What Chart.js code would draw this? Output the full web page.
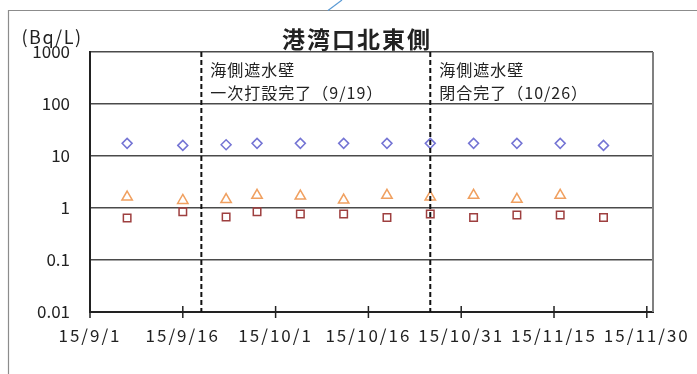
<!DOCTYPE html>
<html>
<head>
<meta charset="utf-8">
<script src="https://cdn.jsdelivr.net/npm/chart.js@4/dist/chart.umd.min.js"></script>
<style>
  html, body { margin: 0; padding: 0; background: #fff; }
  #wrap { width: 697px; height: 374px; position: relative; }
</style>
</head>
<body>
<div id="wrap"><canvas id="c" width="697" height="374"></canvas></div>
<script>
// Sampling dates and measured concentrations (Bq/L)
const sampleDates = ['2015-09-07', '2015-09-16', '2015-09-23', '2015-09-28', '2015-10-05', '2015-10-12',
                     '2015-10-19', '2015-10-26', '2015-11-02', '2015-11-09', '2015-11-16', '2015-11-23'];
const cs134     = [0.64, 0.85, 0.67, 0.85, 0.77, 0.77, 0.66, 0.77, 0.66, 0.73, 0.73, 0.66];
const cs137     = [1.62, 1.40, 1.45, 1.75, 1.70, 1.42, 1.75, 1.62, 1.75, 1.47, 1.75, null];
const grossBeta = [17.5, 16.0, 16.5, 17.5, 17.5, 17.5, 17.5, 17.5, 17.5, 17.5, 17.5, 16.0];

// Axis ticks
const xTickLabels = ['15/9/1', '15/9/16', '15/10/1', '15/10/16', '15/10/31', '15/11/15', '15/11/30'];
const xEndDate = '2015-12-01';
const yTickValues = [0.01, 0.1, 1, 10, 100, 1000];
const yTickLabels = ['0.01', '0.1', '1', '10', '100', '1000'];

// Construction milestones marked with dashed lines
const eventDates = ['2015-09-19', '2015-10-26'];
const eventLines = [['海側遮水壁', '一次打設完了（9/19）'], ['海側遮水壁', '閉合完了（10/26）']];

const titleText = '港湾口北東側';
const unitText = '(Bq/L)';

// Dates are placed on a linear axis counted in days from 15/9/1
const DAY = 86400000;
const ORIGIN = Date.UTC(2015, 8, 1);
const dayOf = s => { const [y, m, d] = s.split('-').map(Number); return (Date.UTC(y, m - 1, d) - ORIGIN) / DAY; };
const dayOfLabel = s => { const [y, m, d] = s.split('/').map(Number); return (Date.UTC(2000 + y, m - 1, d) - ORIGIN) / DAY; };
const xTickValues = xTickLabels.map(dayOfLabel);
const toPoints = vals => sampleDates.map((d, i) => ({ x: dayOf(d), y: vals[i] })).filter(p => p.y != null);

const JP = "'Noto Sans CJK JP', 'Noto Sans', sans-serif";
Chart.defaults.font.family = JP;
Chart.defaults.color = '#222';

const decor = {
  id: 'decor',
  beforeDraw(chart) {
    const ctx = chart.ctx;
    ctx.save();
    ctx.fillStyle = '#fff';
    ctx.fillRect(0, 0, chart.width, chart.height);
    // outer frame
    ctx.strokeStyle = '#8c8c8c';
    ctx.lineWidth = 1.2;
    ctx.beginPath();
    ctx.moveTo(8.5, chart.height);
    ctx.lineTo(8.5, 10.5);
    ctx.lineTo(chart.width, 10.5);
    ctx.stroke();
    ctx.strokeStyle = '#5b9bd5';
    ctx.lineWidth = 1.2;
    ctx.beginPath();
    ctx.moveTo(328, 10.5);
    ctx.lineTo(342, 0);
    ctx.stroke();
    ctx.restore();
  },
  afterDatasetsDraw(chart) {
    const { ctx, chartArea: a, scales: { x } } = chart;
    ctx.save();
    // right border of plot area
    ctx.strokeStyle = '#808080';
    ctx.lineWidth = 2;
    ctx.beginPath();
    ctx.moveTo(a.right, a.top);
    ctx.lineTo(a.right, a.bottom);
    ctx.stroke();
    // tick marks crossing the date axis
    ctx.strokeStyle = '#222';
    ctx.lineWidth = 1.5;
    xTickValues.forEach(v => {
      const px = x.getPixelForValue(v);
      ctx.beginPath();
      ctx.moveTo(px, a.bottom - 6);
      ctx.lineTo(px, a.bottom + 6);
      ctx.stroke();
    });
    // milestone dashed lines and notes
    ctx.font = '16px ' + JP;
    ctx.fillStyle = '#222';
    ctx.textBaseline = 'middle';
    ctx.textAlign = 'left';
    ctx.letterSpacing = '1px';
    eventDates.forEach((d, i) => {
      const px = x.getPixelForValue(dayOf(d));
      ctx.strokeStyle = '#111';
      ctx.lineWidth = 2;
      ctx.setLineDash([5, 3]);
      ctx.beginPath();
      ctx.moveTo(px, a.top);
      ctx.lineTo(px, a.bottom);
      ctx.stroke();
      ctx.setLineDash([]);
      eventLines[i].forEach((t, j) => ctx.fillText(t, px + 9, a.top + 18 + j * 23));
    });
    // title and unit
    ctx.textAlign = 'center';
    ctx.font = 'bold 23px ' + JP;
    ctx.letterSpacing = '2px';
    ctx.fillText(titleText, 357, 39);
    ctx.font = '18px ' + JP;
    ctx.letterSpacing = '1.5px';
    ctx.fillText(unitText, 52, 37);
    ctx.restore();
    // the date labels are drawn after this hook (ticks.z: 1) with wider spacing
    ctx.letterSpacing = '2px';
  },
  afterDraw(chart) {
    chart.ctx.letterSpacing = '0px';
  }
};

const markerDataset = (label, vals, style, radius, color) => ({
  label,
  data: toPoints(vals),
  showLine: false,
  pointStyle: style,
  pointRadius: radius,
  pointHoverRadius: radius,
  pointBorderWidth: 1.5,
  pointBorderColor: color,
  pointBackgroundColor: 'rgba(0,0,0,0)',
  borderColor: color,
  backgroundColor: 'rgba(0,0,0,0)'
});

new Chart(document.getElementById('c'), {
  type: 'scatter',
  data: {
    datasets: [
      markerDataset('全β', grossBeta, 'rectRot', 5, '#7474d4'),
      markerDataset('Cs-137', cs137, 'triangle', 6, '#f0a060'),
      markerDataset('Cs-134', cs134, 'rect', 5.3, '#9e3f3f')
    ]
  },
  options: {
    responsive: false,
    animation: false,
    devicePixelRatio: 1,
    layout: { padding: { left: 0, right: 44, top: 52, bottom: 0 } },
    plugins: { legend: { display: false }, tooltip: { enabled: false }, title: { display: false } },
    scales: {
      x: {
        type: 'linear',
        min: 0,
        max: dayOf(xEndDate),
        afterBuildTicks: axis => { axis.ticks = xTickValues.map(v => ({ value: v })); },
        afterFit: axis => { axis.height = 62; },
        ticks: {
          z: 1,
          autoSkip: false,
          maxRotation: 0,
          padding: 13,
          font: { size: 17 },
          color: '#222',
          callback: v => xTickLabels[xTickValues.indexOf(v)]
        },
        grid: { drawOnChartArea: false, drawTicks: false },
        border: { color: '#222', width: 2 }
      },
      y: {
        type: 'logarithmic',
        min: 0.01,
        max: 1000,
        afterBuildTicks: axis => { axis.ticks = yTickValues.map(v => ({ value: v })); },
        afterFit: axis => { axis.width = 90; },
        ticks: {
          padding: 20,
          font: { size: 17 },
          color: '#222',
          callback: v => {
            const i = yTickValues.findIndex(t => Math.abs(Math.log10(t) - Math.log10(v)) < 1e-6);
            return i >= 0 ? yTickLabels[i] : '';
          }
        },
        grid: { color: '#4a4a4a', lineWidth: 1.5, drawTicks: false },
        border: { color: '#222', width: 2 }
      }
    }
  },
  plugins: [decor]
});
</script>
</body>
</html>
